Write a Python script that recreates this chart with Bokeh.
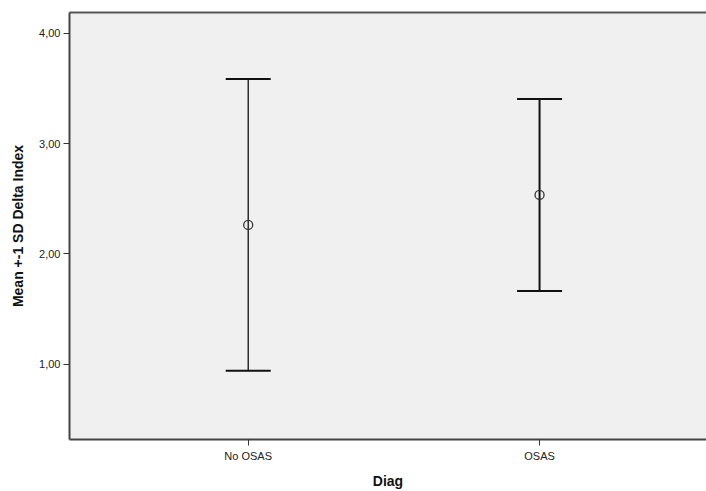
from bokeh.plotting import figure
from bokeh.models import (ColumnDataSource, Whisker, TeeHead, FixedTicker,
                          LinearAxis, CustomJSTickFormatter, Range1d)
from bokeh.embed import file_html
from bokeh.resources import INLINE

categories = ["No OSAS", "OSAS"]
positions = [1, 2]
means = [2.263, 2.535]
sds = [1.323, 0.870]
y_ticks = [1.0, 2.0, 3.0, 4.0]

lower = [m - s for m, s in zip(means, sds)]
upper = [m + s for m, s in zip(means, sds)]
widths = [1.3, 2.0]

src = ColumnDataSource(dict(x=positions, mean=means, lower=lower, upper=upper, lw=widths))

p = figure(width=706, height=491, output_backend="svg", toolbar_location=None,
           x_range=Range1d(0.3866, 2.573), y_range=Range1d(0.317, 4.19),
           min_border_left=69, min_border_right=0, min_border_top=12, min_border_bottom=48)
p.background_fill_color = "#f0f0f0"
p.border_fill_color = "white"
p.outline_line_color = None
p.grid.visible = False

font = "Liberation Sans"
for i in range(2):
    s = ColumnDataSource(dict(x=[positions[i]], lower=[lower[i]], upper=[upper[i]]))
    w = Whisker(source=s, base="x", lower="lower", upper="upper", dimension="height",
                line_color="#111111", line_width=widths[i],
                upper_head=TeeHead(size=45, line_color="#111111", line_width=2),
                lower_head=TeeHead(size=45, line_color="#111111", line_width=2))
    p.add_layout(w)

p.scatter(x="x", y="mean", source=src, marker="circle", size=9,
          fill_color=None, line_color="#333333", line_width=1.3)

# x axis
p.xaxis.ticker = FixedTicker(ticks=positions)
p.xaxis.major_label_overrides = {pos: c for pos, c in zip(positions, categories)}
p.xaxis.axis_label = "Diag"
p.xaxis.minor_tick_line_color = None
# y axis
p.yaxis.ticker = FixedTicker(ticks=y_ticks)
p.yaxis.formatter = CustomJSTickFormatter(code="return tick.toFixed(2).replace('.', ',');")
p.yaxis.axis_label = "Mean +-1 SD Delta Index"
p.yaxis.minor_tick_line_color = None

for ax in (p.xaxis[0], p.yaxis[0]):
    ax.axis_line_color = "#444444"
    ax.axis_line_width = 2
    ax.major_tick_line_color = "#333333"
    ax.major_tick_line_width = 1
    ax.major_tick_in = 0
    ax.major_tick_out = 6
    ax.major_label_text_font = font
    ax.major_label_text_font_size = "11px"
    ax.major_label_text_color = "#222222"
    ax.axis_label_text_font = font
    ax.axis_label_text_font_style = "bold"
    ax.axis_label_text_color = "#111111"

p.xaxis.axis_label_text_font_size = "14px"
p.xaxis.axis_label_standoff = 8
p.xaxis.major_label_standoff = 4
p.yaxis.axis_label_text_font_size = "14px"
p.yaxis.axis_label_standoff = 10
p.yaxis.major_label_standoff = 3

top = LinearAxis(ticker=FixedTicker(ticks=[]), major_label_text_font_size="0px",
                 axis_line_color="#555555", axis_line_width=2,
                 major_tick_line_color=None, minor_tick_line_color=None)
p.add_layout(top, "above")

open("out.html", "w").write(file_html(p, INLINE))
